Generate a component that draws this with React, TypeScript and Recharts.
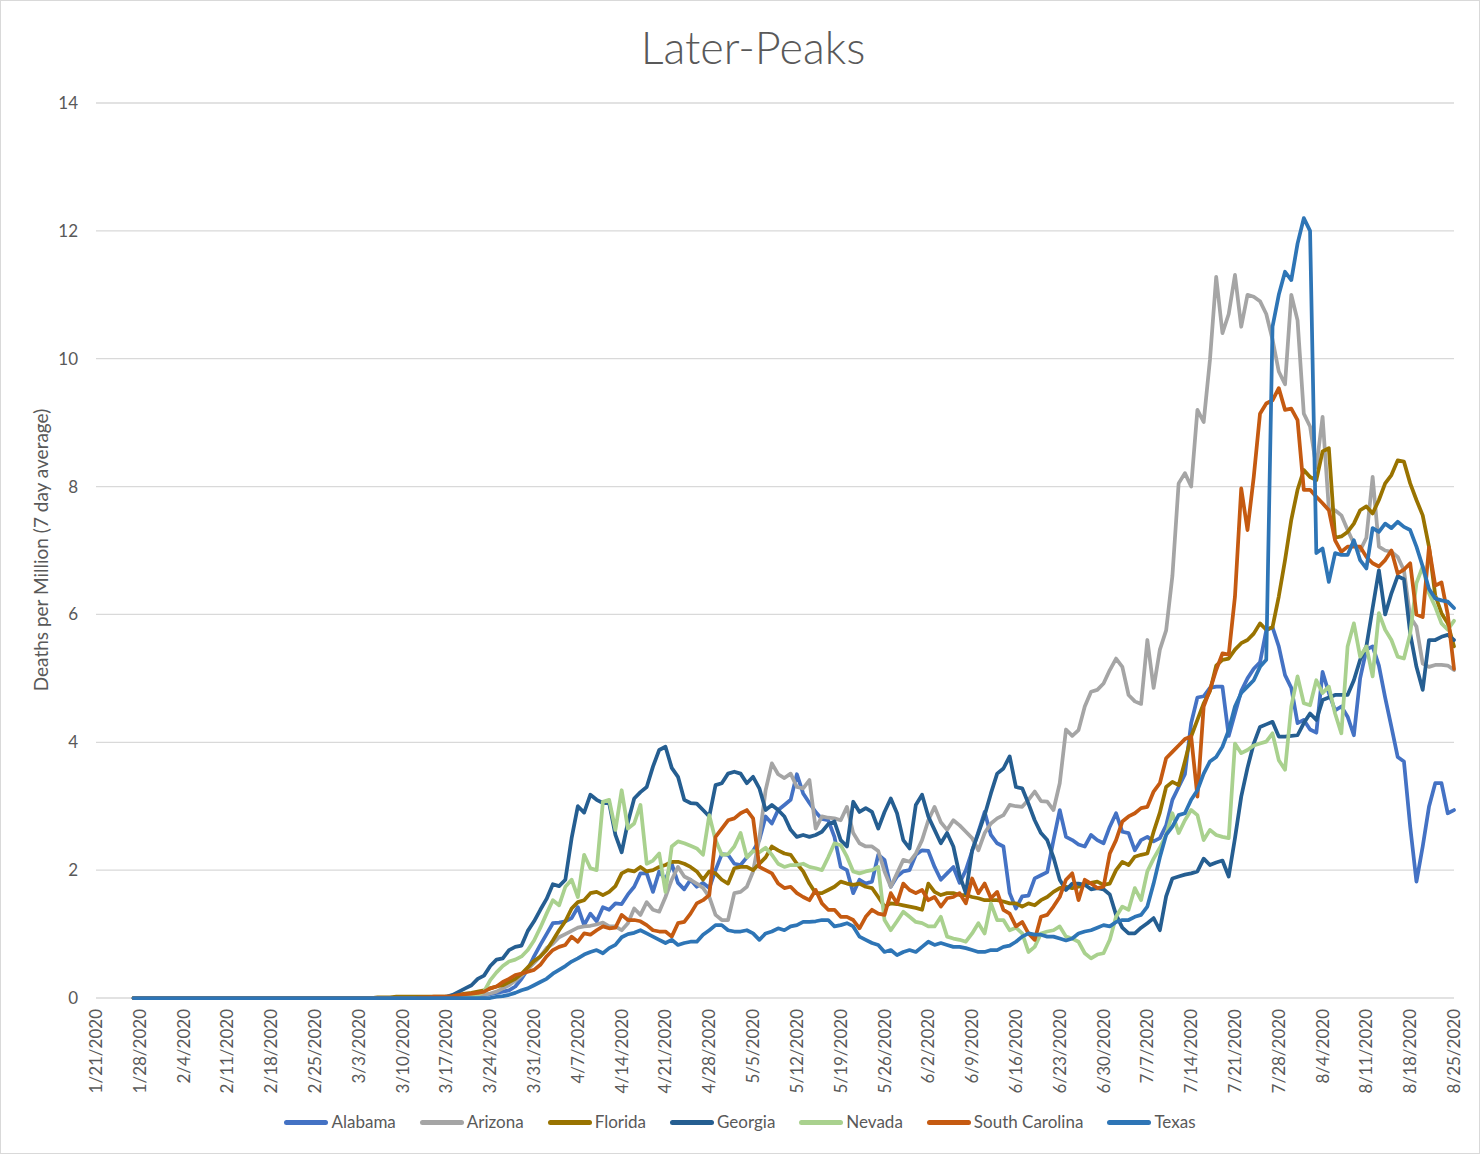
import { CartesianGrid, Line, LineChart, XAxis, YAxis } from 'recharts'

const chartFont = 'Lato, "Open Sans", sans-serif'
const inkGrey = '#595959'
const gridGrey = '#D9D9D9'

// Deaths per million (7 day average), one value per day, read off the original
// chart. Every state sits flat at zero from 1/27/2020 to 3/5/2020, so the lists
// below start on 3/6/2020.
const firstDate = Date.UTC(2020, 0, 21)
const dayCount = 218
const zeroFromIndex = 6 // 1/27/2020, first plotted day
const listedFromIndex = 45 // 3/6/2020

const alabama = [
  0, 0, 0, 0, 0, 0, 0, 0, 0, 0, 0,
  0, 0, 0.01, 0.02, 0.03, 0.04, 0.05, 0.06, 0.08, 0.1,
  0.12, 0.18, 0.3, 0.45, 0.65, 0.83, 1.0, 1.17, 1.18, 1.2,
  1.25, 1.42, 1.14, 1.32, 1.2, 1.42, 1.38, 1.48, 1.47, 1.62,
  1.74, 1.95, 1.95, 1.66, 1.98, 1.85, 2.1, 1.8, 1.7, 1.85,
  1.74, 1.8, 1.72, 2.0, 2.25, 2.24, 2.1, 2.08, 2.2, 2.3,
  2.47, 2.84, 2.73, 2.94, 3.02, 3.1, 3.5, 3.2, 3.05, 2.91,
  2.8, 2.78, 2.52, 2.05, 2.0, 1.64, 1.85, 1.79, 1.82, 2.24,
  2.16, 1.74, 1.9, 1.98, 2.0, 2.24, 2.31, 2.3, 2.05, 1.85,
  1.95, 2.05, 1.8, 2.0, 2.3, 2.6, 2.91, 2.55, 2.42, 2.37,
  1.64, 1.4, 1.59, 1.6, 1.87, 1.92, 1.97, 2.47, 2.94, 2.52,
  2.47, 2.4, 2.37, 2.55, 2.47, 2.42, 2.68, 2.89, 2.6, 2.58,
  2.31, 2.47, 2.52, 2.45, 2.5, 2.7, 3.1, 3.3, 3.5, 4.3,
  4.7, 4.72, 4.85, 4.87, 4.87, 4.1, 4.45, 4.8, 5.0, 5.15,
  5.25, 5.75, 5.8, 5.5, 5.05, 4.85, 4.3, 4.35, 4.2, 4.15,
  5.1, 4.77, 4.5, 4.56, 4.4, 4.11, 5.0, 5.45, 5.5, 5.2,
  4.7, 4.24, 3.77, 3.7, 2.68, 1.82, 2.37, 2.99, 3.36, 3.36,
  2.89, 2.94,
]

const arizona = [
  0, 0, 0, 0, 0, 0, 0, 0, 0, 0, 0,
  0, 0, 0.01, 0.02, 0.03, 0.04, 0.05, 0.07, 0.1, 0.15,
  0.2, 0.27, 0.35, 0.45, 0.55, 0.65, 0.78, 0.85, 0.95, 1.0,
  1.05, 1.1, 1.12, 1.13, 1.15, 1.18, 1.12, 1.12, 1.06, 1.17,
  1.4, 1.3, 1.5, 1.38, 1.35, 1.58, 1.85, 2.05, 1.9, 1.85,
  1.79, 1.72, 1.58, 1.3, 1.22, 1.22, 1.64, 1.66, 1.74, 1.98,
  2.5, 3.25, 3.67, 3.5, 3.44, 3.51, 3.3, 3.28, 3.41, 2.65,
  2.84, 2.82, 2.81, 2.78, 2.99, 2.58, 2.42, 2.37, 2.37, 2.3,
  1.98, 1.74, 1.95, 2.16, 2.13, 2.26, 2.47, 2.78, 2.99, 2.75,
  2.63, 2.78, 2.7, 2.6, 2.5, 2.31, 2.58, 2.73, 2.81, 2.86,
  3.02, 3.0, 2.99, 3.1, 3.23, 3.08, 3.07, 2.94, 3.36, 4.2,
  4.1, 4.19, 4.56, 4.79, 4.82, 4.92, 5.13, 5.31, 5.18, 4.74,
  4.64, 4.6, 5.6, 4.85, 5.45, 5.75, 6.6, 8.05, 8.21, 8.0,
  9.2, 9.01, 9.98, 11.28, 10.4, 10.7, 11.31, 10.5, 11.0, 10.97,
  10.9, 10.7, 10.3, 9.8, 9.6, 11.0, 10.6, 9.14, 8.94, 8.3,
  9.09, 7.65, 7.63, 7.55, 7.32, 7.11, 7.0, 7.2, 8.15, 7.06,
  7.0, 6.98, 6.9, 6.69, 5.96, 5.81, 5.23, 5.18, 5.21, 5.21,
  5.2, 5.13,
]

const florida = [
  0.01, 0.01, 0.01, 0.02, 0.02, 0.02, 0.02, 0.02, 0.02, 0.02, 0.02,
  0.02, 0.03, 0.05, 0.07, 0.08, 0.1, 0.12, 0.15, 0.18, 0.2,
  0.25, 0.3, 0.38, 0.48, 0.58, 0.65, 0.75, 0.9, 1.06, 1.2,
  1.4, 1.5, 1.53, 1.64, 1.66, 1.61, 1.66, 1.75, 1.95, 2.0,
  1.98, 2.05, 1.98, 2.0, 2.05, 2.08, 2.13, 2.13, 2.1, 2.05,
  1.98, 1.85, 1.98, 1.95, 1.85, 1.79, 2.03, 2.05, 2.05, 2.0,
  2.1, 2.2, 2.37, 2.31, 2.26, 2.24, 2.1, 1.98, 1.79, 1.64,
  1.64, 1.69, 1.74, 1.82, 1.79, 1.77, 1.79, 1.74, 1.72, 1.58,
  1.43, 1.48, 1.47, 1.45, 1.43, 1.41, 1.38, 1.79, 1.66, 1.61,
  1.64, 1.64, 1.61, 1.61, 1.58, 1.56, 1.53, 1.53, 1.53, 1.51,
  1.48, 1.48, 1.43, 1.48, 1.45, 1.53, 1.58, 1.66, 1.72, 1.74,
  1.72, 1.74, 1.79, 1.8, 1.82, 1.77, 1.79, 2.0, 2.13, 2.08,
  2.21, 2.24, 2.26, 2.6, 2.9, 3.3, 3.38, 3.33, 3.7, 4.09,
  4.35, 4.61, 4.8, 5.2, 5.29, 5.31, 5.45, 5.55, 5.6, 5.7,
  5.86, 5.76, 5.8, 6.28, 6.85, 7.48, 7.95, 8.26, 8.15, 8.1,
  8.55, 8.6, 7.2, 7.22, 7.29, 7.42, 7.63, 7.69, 7.58, 7.79,
  8.05, 8.18, 8.41, 8.39, 8.05, 7.79, 7.55, 7.06, 6.3, 6.02,
  5.86, 5.5,
]

const georgia = [
  0, 0, 0, 0, 0, 0, 0, 0, 0, 0.01, 0.01,
  0.02, 0.05, 0.1, 0.15, 0.2, 0.3, 0.35, 0.5, 0.6, 0.62,
  0.75, 0.8, 0.82, 1.05, 1.2, 1.38, 1.55, 1.78, 1.75, 1.85,
  2.5, 3.0, 2.9, 3.18, 3.1, 3.05, 3.05, 2.55, 2.28, 2.75,
  3.12, 3.22, 3.3, 3.62, 3.88, 3.93, 3.6, 3.46, 3.1, 3.05,
  3.04, 2.94, 2.84, 3.33, 3.36, 3.51, 3.54, 3.51, 3.36, 3.46,
  3.28, 2.94, 3.02, 2.94, 2.84, 2.63, 2.52, 2.55, 2.52, 2.55,
  2.6, 2.72, 2.76, 2.47, 2.37, 3.07, 2.91, 2.97, 2.91, 2.65,
  2.91, 3.12, 2.89, 2.47, 2.34, 3.02, 3.18, 2.84, 2.63, 2.42,
  2.58, 2.37, 1.92, 1.64, 2.31, 2.58, 2.86, 3.2, 3.51, 3.59,
  3.78, 3.3, 3.28, 3.04, 2.78, 2.58, 2.47, 2.2, 1.85, 1.69,
  1.79, 1.79, 1.77, 1.7, 1.72, 1.7, 1.62, 1.3, 1.1, 1.01,
  1.01, 1.1, 1.17, 1.25, 1.06, 1.59, 1.87, 1.9, 1.93, 1.95,
  1.98, 2.18, 2.08, 2.12, 2.15, 1.9, 2.5, 3.15, 3.6, 3.98,
  4.24, 4.28, 4.32, 4.09, 4.09, 4.1, 4.11, 4.3, 4.45, 4.35,
  4.66, 4.7, 4.74, 4.74, 4.74, 4.97, 5.29, 5.5, 6.1, 6.69,
  6.0, 6.33, 6.6, 6.55, 5.7, 5.18, 4.82, 5.6, 5.6, 5.65,
  5.68, 5.6,
]

const nevada = [
  0, 0, 0, 0, 0, 0, 0, 0, 0, 0, 0,
  0, 0, 0, 0, 0.01, 0.05, 0.1, 0.28, 0.4, 0.5,
  0.57, 0.6, 0.65, 0.75, 0.9, 1.1, 1.32, 1.53, 1.45, 1.74,
  1.85, 1.58, 2.24, 2.03, 2.0, 3.07, 3.1, 2.63, 3.25, 2.65,
  2.73, 3.02, 2.1, 2.15, 2.26, 1.66, 2.37, 2.45, 2.42, 2.38,
  2.34, 2.24, 2.86, 2.47, 2.24, 2.25, 2.37, 2.58, 2.2, 2.3,
  2.28, 2.35, 2.24, 2.1, 2.05, 2.08, 2.08, 2.1, 2.05, 2.03,
  2.0, 2.2, 2.42, 2.39, 2.21, 1.98, 1.95, 1.98, 2.0, 2.05,
  1.22, 1.06, 1.2, 1.35, 1.27, 1.19, 1.17, 1.12, 1.12, 1.27,
  0.96, 0.93, 0.91, 0.88, 1.01, 1.17, 1.01, 1.48, 1.22, 1.22,
  1.06, 1.1, 1.01, 0.72, 0.8, 1.01, 1.04, 1.06, 1.12, 0.96,
  0.93, 0.88, 0.7, 0.62, 0.68, 0.7, 0.91, 1.27, 1.43, 1.38,
  1.72, 1.53, 1.98, 2.18, 2.35, 2.55, 2.89, 2.58, 2.78, 2.94,
  2.86, 2.47, 2.63, 2.55, 2.52, 2.5, 3.98, 3.83, 3.88, 3.95,
  3.98, 4.01, 4.14, 3.72, 3.57, 4.56, 5.03, 4.61, 4.58, 4.97,
  4.77, 4.87, 4.45, 4.14, 5.5, 5.86, 5.34, 5.5, 5.03, 6.02,
  5.76, 5.6, 5.34, 5.31, 5.7, 6.49, 6.75, 6.33, 6.12, 5.86,
  5.76, 5.9,
]

const southCarolina = [
  0, 0, 0, 0, 0, 0, 0, 0.01, 0.01, 0.02, 0.02,
  0.02, 0.03, 0.05, 0.06, 0.07, 0.08, 0.1, 0.15, 0.18, 0.25,
  0.3, 0.36, 0.38, 0.41, 0.44, 0.52, 0.65, 0.75, 0.8, 0.83,
  0.96, 0.88, 1.01, 0.99, 1.06, 1.12, 1.09, 1.1, 1.3, 1.22,
  1.22, 1.2, 1.14, 1.06, 1.04, 1.04, 0.96, 1.17, 1.19, 1.32,
  1.48, 1.53, 1.61, 2.52, 2.65, 2.78, 2.81, 2.89, 2.94, 2.81,
  2.05, 2.0, 1.95, 1.79, 1.72, 1.74, 1.64, 1.58, 1.53, 1.69,
  1.48, 1.38, 1.38, 1.27, 1.27, 1.22, 1.09, 1.27, 1.38, 1.32,
  1.3, 1.64, 1.48, 1.79, 1.69, 1.64, 1.69, 1.53, 1.58, 1.43,
  1.56, 1.58, 1.64, 1.48, 1.87, 1.64, 1.79, 1.56, 1.66, 1.38,
  1.32, 1.12, 1.19, 1.01, 0.91, 1.27, 1.3, 1.43, 1.58, 1.85,
  1.95, 1.53, 1.85, 1.79, 1.72, 1.74, 2.26, 2.47, 2.76, 2.84,
  2.89, 2.97, 2.99, 3.23, 3.36, 3.75, 3.85, 3.95, 4.05, 4.09,
  3.15, 4.56, 4.82, 5.13, 5.39, 5.37, 6.28, 7.97, 7.32, 8.15,
  9.14, 9.3, 9.35, 9.54, 9.2, 9.22, 9.04, 7.95, 7.95, 7.84,
  7.74, 7.63, 7.16, 6.98, 7.06, 7.06, 7.06, 6.9, 6.8, 6.75,
  6.85, 7.0, 6.64, 6.7, 6.8, 6.0, 5.96, 7.05, 6.45, 6.5,
  6.0, 5.15,
]

const texas = [
  0, 0, 0, 0, 0, 0, 0, 0, 0, 0, 0,
  0, 0, 0, 0, 0, 0, 0, 0, 0.02, 0.03,
  0.05, 0.08, 0.12, 0.15, 0.2, 0.25, 0.3, 0.38, 0.44, 0.5,
  0.57, 0.62, 0.68, 0.72, 0.75, 0.7, 0.78, 0.83, 0.95, 1.0,
  1.02, 1.06, 1.01, 0.96, 0.91, 0.86, 0.91, 0.83, 0.86, 0.88,
  0.88, 0.99, 1.06, 1.14, 1.14, 1.06, 1.04, 1.04, 1.06, 1.01,
  0.91, 1.01, 1.04, 1.09, 1.06, 1.12, 1.14, 1.19, 1.19, 1.2,
  1.22, 1.22, 1.12, 1.14, 1.17, 1.12, 0.96, 0.91, 0.86, 0.83,
  0.72, 0.75, 0.67, 0.72, 0.75, 0.72, 0.8, 0.88, 0.83, 0.86,
  0.83, 0.8, 0.8, 0.78, 0.75, 0.72, 0.72, 0.75, 0.75, 0.8,
  0.82, 0.88, 0.96, 1.01, 0.99, 0.99, 0.96, 0.96, 0.93, 0.9,
  0.93, 1.01, 1.04, 1.06, 1.1, 1.14, 1.12, 1.19, 1.22, 1.22,
  1.27, 1.3, 1.43, 1.79, 2.2, 2.55, 2.68, 2.86, 2.89, 3.1,
  3.25, 3.51, 3.7, 3.77, 3.93, 4.19, 4.56, 4.77, 4.87, 4.97,
  5.18, 5.29, 10.5, 11.0, 11.36, 11.23, 11.8, 12.2, 12.0, 6.96,
  7.03, 6.51, 6.96, 6.93, 6.93, 7.16, 6.85, 6.72, 7.35, 7.29,
  7.42, 7.35, 7.45, 7.37, 7.32, 7.06, 6.75, 6.4, 6.25, 6.22,
  6.2, 6.1,
]

const states = ['Alabama', 'Arizona', 'Florida', 'Georgia', 'Nevada', 'South Carolina', 'Texas']

const stateValues: Record<string, number[]> = {
  Alabama: alabama,
  Arizona: arizona,
  Florida: florida,
  Georgia: georgia,
  Nevada: nevada,
  'South Carolina': southCarolina,
  Texas: texas,
}

const stateColors: Record<string, string> = {
  Alabama: '#4472C4',
  Arizona: '#A5A5A5',
  Florida: '#997300',
  Georgia: '#255E91',
  Nevada: '#A9D18E',
  'South Carolina': '#C55A11',
  Texas: '#2E75B6',
}

const yTicks = [0, 2, 4, 6, 8, 10, 12, 14]

const dates = Array.from({ length: dayCount }, (_, i) => {
  const d = new Date(firstDate + i * 86400000)
  return `${d.getUTCMonth() + 1}/${d.getUTCDate()}/${d.getUTCFullYear()}`
})

const rows = dates.map((date, i) => {
  const row: Record<string, string | number | null> = { date }
  for (const s of states) {
    if (i < zeroFromIndex) row[s] = null
    else if (i < listedFromIndex) row[s] = 0
    else row[s] = stateValues[s][i - listedFromIndex] ?? null
  }
  return row
})

// rotated date labels, read bottom to top, ending just under the axis
function DateTick({ x, y, payload }: any) {
  const tx = x + 6
  return (
    <text
      x={tx}
      y={y}
      transform={`rotate(-90 ${tx} ${y})`}
      textAnchor="end"
      fill={inkGrey}
      fontSize={17}
      fontFamily={chartFont}
    >
      {payload.value}
    </text>
  )
}

function ValueTick({ x, y, payload }: any) {
  return (
    <text x={x} y={y} dy={6} textAnchor="end" fill={inkGrey} fontSize={17} fontFamily={chartFont}>
      {payload.value}
    </text>
  )
}

export default function App() {
  return (
    <div
      style={{
        position: 'relative',
        width: 1480,
        height: 1154,
        background: '#fff',
        fontFamily: chartFont,
        color: inkGrey,
        overflow: 'hidden',
      }}
    >
      <style>{'body{margin:0}'}</style>

      <div
        style={{
          position: 'absolute',
          top: 25,
          left: 0,
          width: 1480,
          paddingLeft: 26,
          boxSizing: 'border-box',
          textAlign: 'center',
          fontSize: 45,
          lineHeight: '44px',
          fontWeight: 300,
        }}
      >
        Later-Peaks
      </div>

      <div
        style={{
          position: 'absolute',
          left: 41 - 200,
          top: 550 - 11,
          width: 400,
          height: 22,
          lineHeight: '22px',
          textAlign: 'center',
          fontSize: 19,
          transform: 'rotate(-90deg)',
          whiteSpace: 'nowrap',
        }}
      >
        Deaths per Million (7 day average)
      </div>

      <div style={{ position: 'absolute', left: 0, top: 0 }}>
        <LineChart
          width={1480}
          height={1154}
          data={rows}
          margin={{ top: 103, right: 26, bottom: 56, left: 36 }}
        >
          <CartesianGrid vertical={false} stroke={gridGrey} strokeWidth={1.3} />
          <XAxis
            dataKey="date"
            interval={6}
            tickLine={false}
            axisLine={false}
            tickSize={0}
            tickMargin={11}
            height={100}
            tick={<DateTick />}
          />
          <YAxis
            domain={[0, 14]}
            ticks={yTicks}
            tickLine={false}
            axisLine={false}
            tickSize={0}
            tickMargin={18}
            width={60}
            tick={<ValueTick />}
          />
          {states.map((s) => (
            <Line
              key={s}
              type="linear"
              dataKey={s}
              stroke={stateColors[s]}
              strokeWidth={3.75}
              strokeLinejoin="round"
              strokeLinecap="round"
              dot={false}
              activeDot={false}
              isAnimationActive={false}
            />
          ))}
        </LineChart>
      </div>

      <div
        style={{
          position: 'absolute',
          top: 1111,
          left: 0,
          width: 1480,
          display: 'flex',
          justifyContent: 'center',
          gap: 24,
        }}
      >
        {states.map((s) => (
          <div key={s} style={{ display: 'flex', alignItems: 'center' }}>
            <span
              style={{
                display: 'inline-block',
                width: 44,
                height: 5,
                borderRadius: 3,
                background: stateColors[s],
              }}
            />
            <span style={{ marginLeft: 3, fontSize: 17, lineHeight: '22px' }}>{s}</span>
          </div>
        ))}
      </div>

      <div
        style={{
          position: 'absolute',
          left: 0,
          top: 0,
          width: 1478,
          height: 1152,
          border: `1px solid ${gridGrey}`,
          pointerEvents: 'none',
        }}
      />
    </div>
  )
}
